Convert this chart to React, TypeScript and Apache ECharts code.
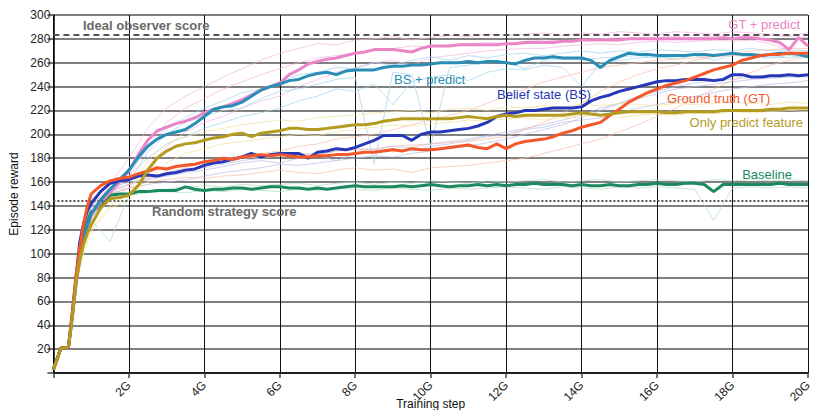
import React, { useEffect, useRef } from "react";
import * as echarts from "echarts";

const STEPS = [0,0.1,0.2,0.3,0.4,0.5,0.6,0.7,0.8,0.9,1,1.25,1.5,1.75,2,2.25,2.5,2.75,3,3.25,3.5,3.75,4,4.25,4.5,4.75,5,5.25,5.5,5.75,6,6.25,6.5,6.75,7,7.25,7.5,7.75,8,8.25,8.5,8.75,9,9.25,9.5,9.75,10,10.25,10.5,10.75,11,11.25,11.5,11.75,12,12.25,12.5,12.75,13,13.25,13.5,13.75,14,14.25,14.5,14.75,15,15.25,15.5,15.75,16,16.25,16.5,16.75,17,17.25,17.5,17.75,18,18.25,18.5,18.75,19,19.25,19.5,19.75,20];

const GT_PREDICT = [3,12,21,21,22,46,74,95,110,122,132,
143,151,160,169,183,195,203,206,209,211,214,218,221,223,226,229,233,237,240,243,250,254,259,261,263,264,266,268,269,271,271,271,270,269,272,274,274,274,275,275,275,275,275,276,276,277,277,277,277,278,278,279,279,279,279,279,280,280,280,280,280,280,280,280,280,280,281,280,281,281,280,279,277,271,281,274];

const BS_PREDICT = [3,12,21,21,22,47,76,98,112,124,133,
145,154,162,170,181,190,196,200,202,204,209,215,221,223,224,227,232,237,240,242,245,246,249,251,252,250,253,254,254,254,256,257,257,258,258,259,260,260,260,261,260,261,261,260,259,262,264,264,265,264,264,264,262,256,262,265,268,267,267,266,266,266,266,267,267,266,267,268,267,267,266,267,268,268,267,265];

const BELIEF_STATE = [3,12,21,21,22,50,80,110,125,136,142,
152,159,161,162,165,166,165,167,168,170,171,174,176,177,179,181,184,181,183,184,184,184,180,185,186,188,187,189,192,195,199,199,199,195,200,202,202,203,204,205,207,210,215,217,218,220,220,221,222,222,222,223,228,231,233,236,238,240,242,244,245,245,246,246,246,245,246,250,250,248,248,249,249,250,249,250];

const GROUND_TRUTH = [3,12,21,21,22,50,82,105,125,140,150,
157,161,163,164,167,169,172,171,173,174,175,177,178,180,179,181,182,183,182,183,182,181,181,182,182,183,183,184,185,185,186,187,186,188,187,187,188,189,190,191,189,188,192,188,192,194,195,196,198,201,203,206,208,210,216,221,227,231,235,238,241,243,245,248,251,254,256,258,262,264,266,267,267,268,268,268];

const ONLY_PREDICT = [3,12,21,21,22,46,76,95,108,117,124,
138,146,147,149,157,170,180,186,190,192,193,195,197,198,200,201,198,201,202,203,205,205,204,204,205,206,207,208,208,209,211,212,213,213,213,213,213,213,214,215,214,213,215,216,215,216,216,216,216,216,217,218,217,216,217,218,219,219,219,219,218,218,219,219,219,219,220,220,220,220,220,221,221,222,222,222];

const BASELINE = [3,12,21,21,22,48,78,100,115,127,135,
140,149,150,150,152,152,153,153,153,156,154,153,154,154,155,155,154,155,156,156,155,155,154,155,154,155,156,157,156,156,156,156,157,156,157,158,157,156,157,157,158,157,158,157,158,158,159,158,158,158,157,158,157,157,158,157,157,158,158,159,158,158,159,159,158,152,158,158,158,158,158,158,159,158,158,158];

// individual runs (thin, faded)
const RUN_STEPS = [0,0.2,0.4,0.6,0.8,1,1.5,2,2.5,3,3.5,4,4.5,5,5.5,6,6.5,7,7.5,8,8.5,9,9.5,10,10.5,11,11.5,12,12.5,13,13.5,14,14.5,15,15.5,16,16.5,17,17.5,18,18.5,19,19.5,20];

const GT_PREDICT_RUN_A = [3,21,22,78,112,135,158,180,205,222,232,240,248,255,262,268,272,276,275,279,280,282,279,281,283,282,284,283,284,285,283,285,284,286,285,284,286,285,284,286,285,284,283,285];
const GT_PREDICT_RUN_B = [3,21,22,75,105,128,145,155,172,190,202,210,215,222,228,232,240,246,252,256,260,262,258,264,266,268,270,271,272,272,274,275,276,275,277,278,277,278,279,278,279,276,270,265];
const GT_PREDICT_RUN_C = [3,21,22,76,108,130,150,165,190,210,222,230,238,244,250,255,260,264,266,268,270,272,274,273,275,276,277,276,278,279,278,279,280,281,280,281,282,281,282,283,282,283,282,281];
const BS_PREDICT_RUN_A = [3,21,22,80,115,135,152,168,188,205,214,222,228,235,238,244,250,252,256,255,260,258,262,265,262,266,264,267,268,266,268,270,268,270,269,271,270,269,271,270,272,270,271,270];
const BS_PREDICT_RUN_B = [3,21,22,80,112,132,148,165,180,192,198,205,210,215,218,222,228,232,238,236,242,225,244,248,250,245,252,255,254,258,256,240,260,262,264,265,263,266,262,266,265,264,266,264];
const BS_PREDICT_RUN_C = [3,21,22,78,110,130,145,160,185,200,210,215,220,222,230,236,238,242,246,248,175,252,250,190,256,258,260,261,255,262,263,262,264,265,266,264,265,266,265,267,266,265,264,266];
const BELIEF_RUN_A = [3,21,22,80,115,138,152,158,163,166,170,172,175,178,180,182,184,183,186,188,187,190,189,192,194,196,199,202,205,208,212,216,222,226,230,234,238,240,242,244,246,247,248,248];
const BELIEF_RUN_B = [3,21,22,82,118,140,155,160,162,165,168,170,173,176,178,176,180,182,178,184,186,188,186,190,192,195,198,200,204,206,210,212,214,218,222,225,228,232,235,238,240,242,243,245];
const BELIEF_RUN_C = [3,21,22,80,114,136,150,155,158,160,162,165,168,170,172,175,174,176,178,180,182,181,184,186,188,190,193,196,200,204,208,214,220,226,232,236,240,243,245,246,248,249,250,250];
const GT_RUN_A = [3,21,22,82,120,145,158,162,168,172,175,176,178,180,181,183,184,182,186,187,188,190,191,192,193,194,196,198,204,210,218,226,236,244,250,255,258,262,265,268,270,271,272,272];
const GT_RUN_B = [3,21,22,80,118,140,150,155,160,162,164,163,165,166,168,170,168,167,170,172,170,171,168,172,173,174,176,178,180,184,188,192,196,202,208,215,222,230,238,245,252,258,262,265];
const GT_RUN_C = [3,21,22,80,116,142,152,158,164,168,172,176,180,182,184,186,190,192,196,198,200,204,208,212,216,220,226,232,238,244,248,252,256,258,260,262,263,264,265,266,266,267,267,268];
const ONLY_PREDICT_RUN_A = [3,21,22,76,104,120,140,150,178,192,198,202,205,208,210,212,211,214,215,216,218,219,220,218,221,222,220,223,222,224,223,225,224,226,225,224,226,225,226,227,226,225,227,226];
const ONLY_PREDICT_RUN_B = [3,21,22,74,100,118,138,145,160,176,184,188,192,194,196,198,200,199,202,204,206,208,207,209,210,212,211,213,214,212,214,215,216,214,216,217,216,218,217,219,218,219,220,219];
const BASELINE_RUN_A = [3,21,22,80,112,130,145,150,152,154,156,157,156,158,157,158,159,157,159,160,158,160,159,161,160,159,161,160,161,162,160,161,162,160,161,162,161,160,162,161,162,161,162,161];
const BASELINE_RUN_B = [3,21,22,78,108,128,110,149,151,152,151,153,152,154,153,152,154,153,155,154,153,155,154,153,155,154,155,156,155,154,156,155,154,156,155,156,155,154,128,155,156,155,156,155];

const IDEAL_SCORE = 283.5;
const RANDOM_SCORE = 144.5;

const C_PINK = "#ea86c8";
const C_TEAL = "#2a8db5";
const C_BLUE = "#2638b8";
const C_ORANGE = "#f4582a";
const C_GOLD = "#b39b1f";
const C_GREEN = "#1b8a5e";

const RUNS = [
  { data: GT_PREDICT_RUN_A, color: "#f3b3de" },
  { data: GT_PREDICT_RUN_B, color: "#f3b3de" },
  { data: GT_PREDICT_RUN_C, color: "#f3b3de" },
  { data: BS_PREDICT_RUN_A, color: "#9fd3ef" },
  { data: BS_PREDICT_RUN_B, color: "#9fd3ef" },
  { data: BS_PREDICT_RUN_C, color: "#9fd3ef" },
  { data: BELIEF_RUN_A, color: "#b9bfe6" },
  { data: BELIEF_RUN_B, color: "#b9bfe6" },
  { data: BELIEF_RUN_C, color: "#b9bfe6" },
  { data: GT_RUN_A, color: "#f9bca8" },
  { data: GT_RUN_B, color: "#f9bca8" },
  { data: GT_RUN_C, color: "#f9bca8" },
  { data: ONLY_PREDICT_RUN_A, color: "#f3e29a" },
  { data: ONLY_PREDICT_RUN_B, color: "#f3e29a" },
  { data: BASELINE_RUN_A, color: "#a9dcc6" },
  { data: BASELINE_RUN_B, color: "#a9dcc6" },
];

const SERIES = [
  { name: "Baseline", data: BASELINE, color: C_GREEN },
  { name: "GT + predict", data: GT_PREDICT, color: C_PINK },
  { name: "BS + predict", data: BS_PREDICT, color: C_TEAL },
  { name: "Belief state (BS)", data: BELIEF_STATE, color: C_BLUE },
  { name: "Ground truth (GT)", data: GROUND_TRUTH, color: C_ORANGE },
  { name: "Only predict feature", data: ONLY_PREDICT, color: C_GOLD },
];

const FONT = "'Liberation Sans', Arial, Helvetica, sans-serif";

export default function App() {
  const ref = useRef<HTMLDivElement>(null);
  useEffect(() => {
    if (!ref.current) return;
    const chart = echarts.init(ref.current, null, { renderer: "svg" });
    const labelTexts = [
      { text: "GT + predict", x: 800, y: 24.5, align: "right", color: C_PINK },
      { text: "BS + predict", x: 394, y: 79.5, align: "left", color: C_TEAL },
      { text: "Belief state (BS)", x: 497, y: 94.5, align: "left", color: C_BLUE },
      { text: "Ground truth (GT)", x: 667, y: 98, align: "left", color: C_ORANGE },
      { text: "Only predict feature", x: 803, y: 122.5, align: "right", color: C_GOLD },
      { text: "Baseline", x: 792, y: 174, align: "right", color: C_GREEN },
    ];
    const runSeries = RUNS.map((r, i) => ({
      type: "line",
      name: "run" + i,
      data: RUN_STEPS.map((x, j) => [x, r.data[j]]),
      showSymbol: false,
      silent: true,
      lineStyle: { color: r.color, width: 1, opacity: 0.7 },
      z: 2,
    }));
    const mainSeries = SERIES.map((s, i) => ({
      type: "line",
      name: s.name,
      data: STEPS.map((x, j) => [x, s.data[j]]),
      showSymbol: false,
      lineStyle: { color: s.color, width: 3 },
      itemStyle: { color: s.color },
      z: 3 + i,
      markLine:
        i === 0
          ? {
              silent: true,
              symbol: "none",
              label: { show: false },
              data: [
                { yAxis: IDEAL_SCORE, lineStyle: { type: [6, 4], color: "#555", width: 2 } },
                { yAxis: RANDOM_SCORE, lineStyle: { type: [2, 2], color: "#555", width: 2 } },
              ],
            }
          : undefined,
    }));
    const option: any = {
      animation: false,
      grid: {
        left: 53.4,
        right: 6,
        top: 15,
        bottom: 37,
        containLabel: false,
        outerBoundsMode: "none",
      },
      xAxis: {
        type: "value",
        min: 0,
        max: 20,
        interval: 2,
        name: "Training step",
        nameLocation: "middle",
        nameGap: 25,
        nameMoveOverlap: false,
        nameTextStyle: { fontFamily: FONT, fontSize: 12, color: "#111" },
        axisLine: { show: true, onZero: false, lineStyle: { color: "#000", width: 1.5 } },
        axisTick: { show: true, length: 5, lineStyle: { color: "#444", width: 1.5 } },
        axisLabel: {
          rotate: 45,
          margin: 10,
          fontFamily: FONT,
          fontSize: 12,
          color: "#222",
          formatter: (v: number) => (v === 0 ? "" : v + "G"),
        },
        splitLine: { show: true, lineStyle: { color: "#111", width: 1 } },
      },
      yAxis: {
        type: "value",
        min: 0,
        max: 300,
        interval: 20,
        name: "Episode reward",
        nameLocation: "middle",
        nameGap: 33,
        nameMoveOverlap: false,
        nameTextStyle: { fontFamily: FONT, fontSize: 12, color: "#111" },
        axisLine: { show: true, lineStyle: { color: "#000", width: 1.5 } },
        axisTick: { show: true, length: 6, lineStyle: { color: "#444", width: 1.5 } },
        axisLabel: {
          margin: 3,
          fontFamily: FONT,
          fontSize: 12,
          color: "#222",
          formatter: (v: number) => (v === 0 ? "" : String(v)),
        },
        splitLine: { show: true, lineStyle: { color: "#808080", width: 1.8 } },
      },
      series: [...runSeries, ...mainSeries],
      graphic: [
        {
          type: "text",
          x: 83,
          y: 25.5,
          style: {
            text: "Ideal observer score",
            font: `bold 13px ${FONT}`,
            fill: "#6a6a6a",
            textAlign: "left",
            textVerticalAlign: "middle",
          },
          z: 100,
        },
        {
          type: "text",
          x: 152,
          y: 211.5,
          style: {
            text: "Random strategy score",
            font: `bold 13px ${FONT}`,
            fill: "#6a6a6a",
            textAlign: "left",
            textVerticalAlign: "middle",
          },
          z: 100,
        },
        ...labelTexts.map((t) => ({
          type: "text",
          x: t.x,
          y: t.y,
          style: {
            text: t.text,
            font: `13px ${FONT}`,
            fill: t.color,
            textAlign: t.align,
            textVerticalAlign: "middle",
          },
          z: 100,
        })),
      ],
    };
    chart.setOption(option);
    return () => chart.dispose();
  }, []);
  return (
    <div
      ref={ref}
      style={{ position: "fixed", left: 0, top: 0, width: 814, height: 410, background: "#fff" }}
    />
  );
}
